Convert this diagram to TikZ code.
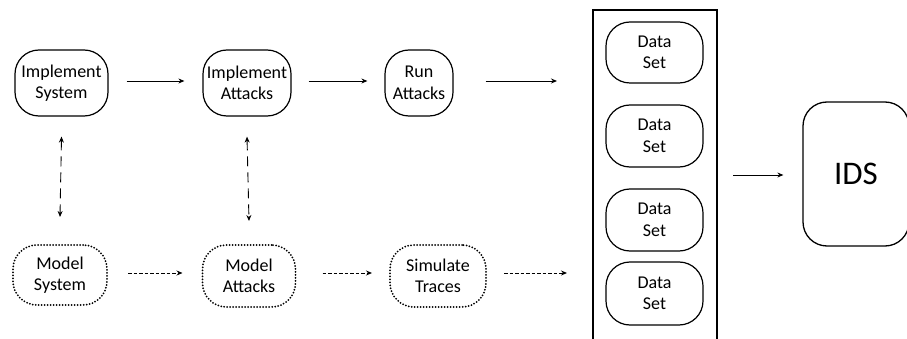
\documentclass[tikz,border=0pt]{standalone}
\usepackage{fontspec}
\setmainfont{Carlito}
\usetikzlibrary{arrows.meta}
\begin{document}
\begin{tikzpicture}[x=1pt,y=-1pt,
  box/.style={draw,line width=1.2pt,rounded corners=24pt,align=center,font=\fontsize{18}{21.5}\selectfont,inner sep=0pt},
  dbox/.style={box,line width=2pt,line cap=round,dash pattern=on 0pt off 3pt},
  arr/.style={-{Stealth[length=6pt,width=5pt]},line width=0.9pt},
  darr/.style={arr,dash pattern=on 3.5pt off 2pt},
  varr/.style={{Stealth[length=6pt,width=5pt]}-{Stealth[length=6pt,width=5pt]},line width=0.9pt,dash pattern=on 10pt off 6pt}]
\useasboundingbox (0,0) rectangle (907,339);
% top row
\node[box,minimum width=93pt,minimum height=66pt] (is) at (61.5,83) {Implement\\System};
\node[box,minimum width=88pt,minimum height=66pt] (ia) at (247,83) {Implement\\Attacks};
\node[box,minimum width=68pt,minimum height=66pt] (ra) at (419,83) {Run\\Attacks};
% bottom row
\node[dbox,minimum width=94pt,minimum height=60pt] (ms) at (60,275) {Model\\System};
\node[dbox,minimum width=93pt,minimum height=62pt] (ma) at (249,276) {Model\\Attacks};
\node[dbox,minimum width=96pt,minimum height=62pt] (st) at (438,276) {Simulate\\Traces};
% container
\draw[line width=1.4pt] (593,340) -- (593,10) -- (717,10) -- (717,340);
\coordinate (cl1) at (593,81);
\coordinate (cl2) at (593,273);
\coordinate (cr) at (717,175);
\node[box,minimum width=97pt,minimum height=61pt] (d1) at (654.5,52.5) {Data\\Set};
\node[box,minimum width=97pt,minimum height=62pt] (d2) at (654.5,136) {Data\\Set};
\node[box,minimum width=97pt,minimum height=62pt] (d3) at (654.5,220) {Data\\Set};
\node[box,minimum width=97pt,minimum height=63pt] (d4) at (654.5,293.5) {Data\\Set};
% IDS
\node[draw,line width=1.3pt,rounded corners=24pt,minimum width=106pt,minimum height=144pt,font=\fontsize{33}{38}\selectfont,inner sep=0pt] (ids) at (856,174) {IDS};
% arrows
\draw[arr] ([xshift=18pt]is.east|-0,81) -- ([xshift=-18pt]ia.west|-0,81);
\draw[arr] ([xshift=17pt]ia.east|-0,81) -- ([xshift=-17pt]ra.west|-0,81);
\draw[arr] ([xshift=32pt]ra.east|-0,81) -- ([xshift=-36pt]cl1);
\draw[darr] ([xshift=20pt]ms.east|-0,273) -- ([xshift=-19pt]ma.west|-0,273);
\draw[darr] ([xshift=26pt]ma.east|-0,273) -- ([xshift=-17pt]st.west|-0,273);
\draw[darr] ([xshift=17pt]st.east|-0,273) -- ([xshift=-26pt]cl2);
\draw[arr] ([xshift=16pt]cr) -- ([xshift=-19pt]ids.west|-cr);
\draw[varr] ([yshift=-20pt]is.south) -- ([yshift=27pt]ms.north);
\draw[varr] ([yshift=-20pt]ia.south) -- ([yshift=23pt]ma.north);
\end{tikzpicture}
\end{document}
